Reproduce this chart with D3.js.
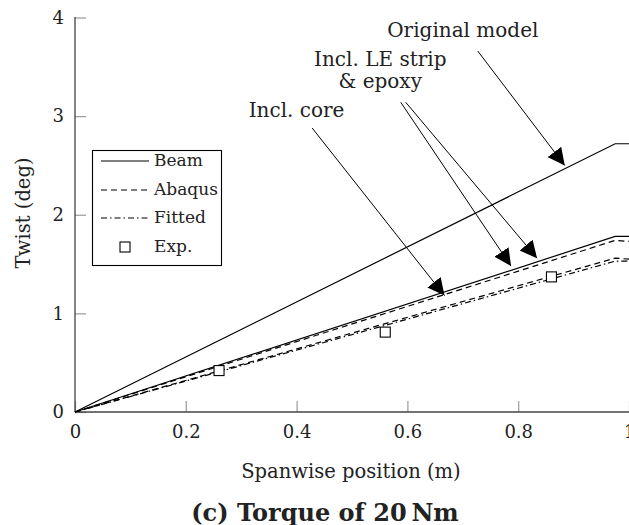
<!DOCTYPE html>
<html><head><meta charset="utf-8">
<script src="https://cdn.jsdelivr.net/npm/d3@7"></script>
<style>body{margin:0;background:#fff}svg{display:block}text{font-family:"DejaVu Serif",serif;fill:#222}</style>
</head><body><svg id="c" width="629" height="525"></svg>
<script>
// ---- data ----
const xTicks = [0, 0.2, 0.4, 0.6, 0.8, 1];
const yTicks = [0, 1, 2, 3, 4];
const beamOriginal = [[0,0],[0.975,2.72],[1,2.72]];
const beamLE       = [[0,0],[0.975,1.78],[1,1.78]];
const abaqusLE     = [[0,0],[0.975,1.74],[1,1.73]];
const abaqusCore   = [[0,0],[0.975,1.56],[1,1.55]];
const fittedCore   = [[0,0],[0.975,1.53],[1,1.53]];
const expX = [0.26, 0.56, 0.86];
const expY = [0.42, 0.81, 1.37];
const legendLabels = ["Beam", "Abaqus", "Fitted", "Exp."];
const annotations = [
  {lines:["Original model"], tx:0.70, ty:3.86, arrows:[[0.727,3.66,0.884,2.50]]},
  {lines:["Incl. LE strip","& epoxy"], tx:0.551, ty:3.57, arrows:[[0.588,3.14,0.787,1.48],[0.597,3.14,0.834,1.56]]},
  {lines:["Incl. core"], tx:0.40, ty:3.05, arrows:[[0.428,2.88,0.667,1.18]]}
];

const svg = d3.select("#c");
const x = d3.scaleLinear().domain([0,1]).range([75,629]);
const y = d3.scaleLinear().domain([0,4]).range([412,17.5]);

// ticks (inward)
const gx = svg.append("g").attr("transform","translate(0,412)")
  .call(d3.axisBottom(x).tickValues(xTicks).tickSize(-11).tickPadding(13).tickFormat(d=>d3.format("")(d)));
const gy = svg.append("g").attr("transform","translate(75,0)")
  .call(d3.axisLeft(y).tickValues(yTicks).tickSize(-11).tickPadding(11).tickFormat(d3.format("d")));
[gx,gy].forEach(g=>{
  g.select(".domain").remove();
  g.selectAll(".tick line").attr("stroke","#999").attr("stroke-width",1.2);
  g.selectAll(".tick text").attr("font-size",18).attr("font-family","DejaVu Serif").attr("fill","#222");
});
gx.selectAll(".tick text").attr("dy","0.71em");
// axis lines
svg.append("line").attr("x1",75).attr("x2",75).attr("y1",17).attr("y2",412).attr("stroke","#444").attr("stroke-width",1.3);
svg.append("line").attr("x1",75).attr("x2",629).attr("y1",412).attr("y2",412).attr("stroke","#444").attr("stroke-width",1.3);

const line = d3.line().x(d=>x(d[0])).y(d=>y(d[1]));
const styles = [
  {data:beamOriginal, dash:null},
  {data:beamLE, dash:null},
  {data:abaqusLE, dash:"6,4"},
  {data:abaqusCore, dash:"6,4"},
  {data:fittedCore, dash:"6,3,1.5,3"}
];
styles.forEach(s=>{
  svg.append("path").attr("d",line(s.data)).attr("fill","none").attr("stroke","#000")
    .attr("stroke-width",1.2).attr("stroke-dasharray",s.dash);
});
// exp markers
svg.selectAll("rect.exp").data(expX.map((v,i)=>[v,expY[i]])).enter().append("rect")
  .attr("x",d=>x(d[0])-5).attr("y",d=>y(d[1])-5).attr("width",10).attr("height",10)
  .attr("fill","#fff").attr("stroke","#000").attr("stroke-width",1.1);

// arrows
const defs = svg.append("defs");
defs.append("marker").attr("id","ah").attr("viewBox","0 0 10 10").attr("refX",10).attr("refY",5)
  .attr("markerWidth",17).attr("markerHeight",17).attr("markerUnits","userSpaceOnUse").attr("orient","auto")
  .append("path").attr("d","M0,0 L10,5 L0,10 Z").attr("fill","#000");
annotations.forEach(a=>{
  const t = svg.append("text").attr("x",x(a.tx)).attr("y",y(a.ty)).attr("text-anchor","middle")
    .attr("font-size",20).attr("dominant-baseline","middle");
  a.lines.forEach((l,i)=>t.append("tspan").attr("x",x(a.tx)).attr("dy",i?22:0).text(l));
  a.arrows.forEach(r=>{
    svg.append("line").attr("x1",x(r[0])).attr("y1",y(r[1])).attr("x2",x(r[2])).attr("y2",y(r[3]))
      .attr("stroke","#000").attr("stroke-width",1).attr("marker-end","url(#ah)");
  });
});

// legend
const lg = svg.append("g");
lg.append("rect").attr("x",92.5).attr("y",150.5).attr("width",129).attr("height",115)
  .attr("fill","#fff").attr("stroke","#000").attr("stroke-width",1.1);
const rows = [161,190,218,247];
const dashes = [null,"6,4","6,3,1.5,3"];
legendLabels.forEach((lab,i)=>{
  if(i<3){
    lg.append("line").attr("x1",101).attr("x2",149).attr("y1",rows[i]).attr("y2",rows[i])
      .attr("stroke","#000").attr("stroke-width",1.2).attr("stroke-dasharray",dashes[i]);
  } else {
    lg.append("rect").attr("x",120).attr("y",rows[i]-5).attr("width",10).attr("height",10)
      .attr("fill","#fff").attr("stroke","#000").attr("stroke-width",1.1);
  }
  lg.append("text").attr("x",154).attr("y",rows[i]).attr("dominant-baseline","middle")
    .attr("font-size",17).text(lab);
});

// axis labels
svg.append("text").attr("x",351).attr("y",472).attr("text-anchor","middle").attr("dominant-baseline","middle")
  .attr("font-size",19.5).text("Spanwise position (m)");
svg.append("text").attr("transform","translate(24,213) rotate(-90)").attr("text-anchor","middle")
  .attr("dominant-baseline","middle").attr("font-size",19.5).text("Twist (deg)");
svg.append("text").attr("x",325).attr("y",514).attr("text-anchor","middle").attr("dominant-baseline","middle")
  .attr("font-size",24).attr("font-weight","bold").text("(c)  Torque of 20\u2009Nm");
</script></body></html>
